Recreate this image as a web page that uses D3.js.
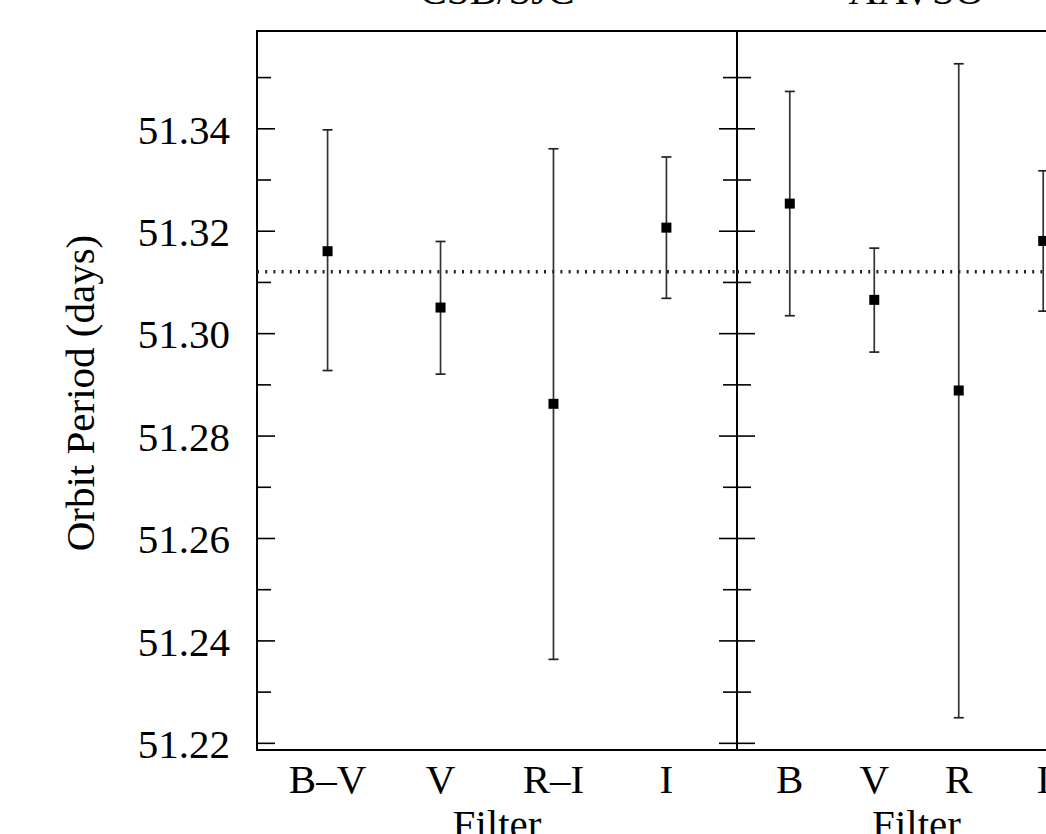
<!DOCTYPE html>
<html>
<head>
<meta charset="utf-8">
<script src="https://cdn.jsdelivr.net/npm/d3@7"></script>
<style>
  html, body { margin: 0; padding: 0; background: #fff; overflow: hidden; }
  svg { display: block; }
  text { font-family: "Liberation Serif", "Times New Roman", serif; fill: #000; }
</style>
</head>
<body>
<svg id="chart" width="1046" height="834"></svg>
<script>
// ---- data ----
const panelTitles = ["CSB/SJC", "AAVSO"];
const csbFilters = ["B\u2013V", "V", "R\u2013I", "I"];
const csbPeriod = [51.3160, 51.3050, 51.2862, 51.3206];
const csbLower  = [51.2927, 51.2920, 51.2363, 51.3068];
const csbUpper  = [51.3397, 51.3179, 51.3360, 51.3344];
const aavsoFilters = ["B", "V", "R", "I"];
const aavsoPeriod = [51.3253, 51.3065, 51.2888, 51.3180];
const aavsoLower  = [51.3034, 51.2963, 51.2249, 51.3043];
const aavsoUpper  = [51.3472, 51.3166, 51.3526, 51.3317];
const meanPeriod = 51.312;
const majorTicks = [51.22, 51.24, 51.26, 51.28, 51.30, 51.32, 51.34];
const minorTicks = [51.23, 51.25, 51.27, 51.29, 51.31, 51.33, 51.35];
const yLabel = "Orbit Period (days)";
const xLabel = "Filter";

// ---- layout ----
const svg = d3.select("#chart");
const plotTop = 31, plotBottom = 750;
const FS = 41;
const y = d3.scaleLinear().domain([51.2186, 51.359]).range([plotBottom, plotTop]);

const panels = [
  { title: panelTitles[0], filters: csbFilters, period: csbPeriod, lo: csbLower, hi: csbUpper, x0: 257, x1: 737 },
  { title: panelTitles[1], filters: aavsoFilters, period: aavsoPeriod, lo: aavsoLower, hi: aavsoUpper, x0: 737, x1: 1096 }
];

panels.forEach((p, pi) => {
  const x = d3.scaleLinear().domain([0.375, 4.625]).range([p.x0, p.x1]);
  const g = svg.append("g");

  // frame
  g.append("rect").attr("x", p.x0).attr("y", plotTop)
    .attr("width", p.x1 - p.x0).attr("height", plotBottom - plotTop)
    .attr("fill", "none").attr("stroke", "#000").attr("stroke-width", 2);

  // mean dotted line
  g.append("line").attr("x1", p.x0).attr("x2", p.x1)
    .attr("y1", y(meanPeriod)).attr("y2", y(meanPeriod))
    .attr("stroke", "#222").attr("stroke-width", 3.5).attr("stroke-dasharray", "2,6.2");

  // error bars
  p.filters.forEach((f, i) => {
    const cx = x(i + 1);
    g.append("line").attr("x1", cx).attr("x2", cx)
      .attr("y1", y(p.lo[i])).attr("y2", y(p.hi[i]))
      .attr("stroke", "#333").attr("stroke-width", 1.7);
    [p.lo[i], p.hi[i]].forEach(v => {
      g.append("line").attr("x1", cx - 5).attr("x2", cx + 5)
        .attr("y1", y(v)).attr("y2", y(v))
        .attr("stroke", "#222").attr("stroke-width", 1.7);
    });
    g.append("rect").attr("x", cx - 5).attr("y", y(p.period[i]) - 5)
      .attr("width", 10).attr("height", 10).attr("fill", "#000");
    // category label
    g.append("text").attr("x", cx).attr("y", 793)
      .attr("text-anchor", "middle").attr("font-size", FS).text(f);
  });

  // x axis title
  g.append("text").attr("x", (x(0.375) + x(4.625)) / 2).attr("y", 838)
    .attr("text-anchor", "middle").attr("font-size", FS).text(xLabel);

  // panel title
  g.append("text").attr("x", (x(0.375) + x(4.625)) / 2).attr("y", 4)
    .attr("text-anchor", "middle").attr("font-size", FS).text(p.title);

  if (pi === 0) {
    const ax = d3.axisLeft(y).tickValues(majorTicks).tickSizeInner(-18).tickSizeOuter(0)
      .tickPadding(27).tickFormat(d3.format(".2f"));
    const ag = g.append("g").attr("transform", `translate(${p.x0},0)`).call(ax);
    ag.select(".domain").remove();
    ag.selectAll("line").attr("stroke", "#000").attr("stroke-width", 1.6);
    ag.selectAll("text").attr("font-size", FS).attr("font-family", "Liberation Serif, serif")
      .attr("dy", "0.36em");
    const mg = g.append("g").attr("transform", `translate(${p.x0},0)`)
      .call(d3.axisLeft(y).tickValues(minorTicks).tickSizeInner(-14).tickSizeOuter(0).tickFormat(""));
    mg.select(".domain").remove();
    mg.selectAll("line").attr("stroke", "#000").attr("stroke-width", 1.6);
  } else {
    [[majorTicks, 18], [minorTicks, 14]].forEach(([tv, sz]) => {
      [d3.axisLeft(y), d3.axisRight(y)].forEach(a => {
        const ag = g.append("g").attr("transform", `translate(${p.x0},0)`)
          .call(a.tickValues(tv).tickSizeInner(sz).tickSizeOuter(0).tickFormat(""));
        ag.select(".domain").remove();
        ag.selectAll("line").attr("stroke", "#000").attr("stroke-width", 1.6);
      });
    });
  }
});

// y axis title
svg.append("text")
  .attr("transform", `translate(94,393) rotate(-90)`)
  .attr("text-anchor", "middle").attr("font-size", FS).text(yLabel);
</script>
</body>
</html>
